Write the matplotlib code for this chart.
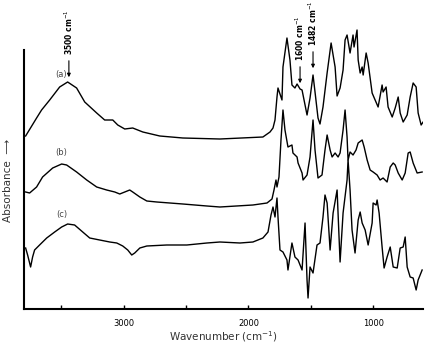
import matplotlib
matplotlib.use('Agg')
import matplotlib.pyplot as plt
from matplotlib.ticker import FixedLocator

# wavenumber (cm-1) and absorbance (arbitrary units, spectra stacked)
wn_a = [3787, 3699, 3659, 3594, 3514, 3450, 3378, 3313, 3217, 3153, 3088, 3048, 2992, 2928, 2847,
        2711, 2526, 2229, 1884, 1827, 1803, 1787, 1771, 1763, 1747, 1731, 1723, 1691, 1667, 1651,
        1627, 1610, 1586, 1570, 1546, 1530, 1506, 1482, 1466, 1442, 1426, 1402, 1369, 1337, 1305,
        1289, 1265, 1241, 1225, 1209, 1185, 1161, 1153, 1129, 1120, 1104, 1088, 1080, 1056, 1040,
        1008, 984, 960, 928, 920, 896, 880, 847, 823, 799, 783, 759, 727, 703, 679, 655, 639, 615, 599]
abs_a = [173, 191, 199, 209, 222, 227, 221, 207, 196, 189, 189, 184, 180, 181, 177,
         173, 171, 170, 172, 177, 181, 189, 212, 221, 215, 209, 242, 271, 249, 224,
         221, 225, 220, 219, 204, 194, 211, 234, 217, 191, 185, 202, 236, 266, 242,
         213, 221, 239, 269, 274, 256, 274, 262, 279, 249, 236, 242, 234, 256, 246,
         216, 209, 202, 224, 217, 222, 202, 192, 201, 212, 196, 187, 194, 212, 226, 222, 196, 184, 187]

wn_b = [3787, 3755, 3699, 3651, 3570, 3498, 3458, 3378, 3297, 3217, 3137, 3072, 3032, 2992, 2952,
        2928, 2871, 2815, 2735, 2526, 2333, 2229, 1964, 1851, 1811, 1795, 1779, 1771, 1755, 1739,
        1723, 1707, 1683, 1651, 1643, 1610, 1602, 1570, 1562, 1530, 1506, 1482, 1466, 1442, 1410,
        1386, 1369, 1345, 1329, 1305, 1281, 1265, 1241, 1225, 1209, 1201, 1185, 1161, 1137, 1120,
        1088, 1072, 1048, 1024, 1000, 968, 944, 920, 888, 863, 839, 823, 799, 767, 743, 719, 703,
        679, 647, 607]
abs_b = [117, 116, 122, 132, 141, 145, 144, 137, 129, 122, 119, 117, 115, 117, 119,
         117, 112, 108, 107, 105, 103, 102, 104, 106, 110, 119, 129, 122, 132, 169,
         199, 179, 162, 164, 156, 152, 146, 136, 129, 134, 152, 189, 159, 131, 134,
         159, 174, 159, 152, 156, 152, 156, 179, 199, 172, 149, 157, 154, 159, 166,
         169, 162, 149, 139, 137, 134, 129, 131, 127, 142, 146, 144, 136, 129, 136,
         156, 157, 146, 136, 137]

wn_c = [3787, 3771, 3747, 3731, 3715, 3675, 3618, 3554, 3498, 3450, 3394, 3329, 3273, 3193, 3112,
        3056, 3008, 2968, 2936, 2912, 2871, 2815, 2655, 2494, 2333, 2229, 2068, 1964, 1884, 1843,
        1819, 1803, 1787, 1771, 1763, 1747, 1723, 1691, 1683, 1651, 1627, 1602, 1570, 1546, 1530,
        1522, 1506, 1482, 1450, 1426, 1402, 1386, 1369, 1345, 1321, 1289, 1265, 1241, 1209, 1201,
        1185, 1169, 1145, 1120, 1104, 1088, 1064, 1040, 1008, 1000, 976, 968, 952, 928, 912, 888,
        863, 839, 807, 783, 759, 743, 727, 703, 679, 655, 639, 607]
abs_c = [61, 54, 42, 52, 59, 64, 71, 77, 82, 85, 84, 77, 71, 69, 67,
         66, 63, 59, 54, 56, 61, 63, 64, 64, 66, 67, 66, 67, 71, 77,
         94, 102, 92, 111, 92, 59, 57, 49, 39, 66, 52, 49, 39, 86, 29,
         11, 42, 36, 64, 66, 92, 114, 106, 59, 96, 119, 47, 96, 129, 149,
         119, 79, 56, 89, 97, 86, 79, 64, 86, 106, 104, 109, 96, 62, 41,
         52, 62, 42, 41, 61, 62, 72, 42, 32, 31, 19, 29, 39]

tick_major = [3000, 2000, 1000]
tick_minor = [3500, 2500, 1500]
peaks = [(3440, '3500 cm$^{-1}$', 227), (1586, '1600 cm$^{-1}$', 221), (1482, '1482 cm$^{-1}$', 236)]
curve_labels = [('(a)', 234), ('(b)', 156), ('(c)', 94)]

fig = plt.figure(figsize=(4.31, 3.45), dpi=100)
ax = fig.add_axes([24 / 431, 36 / 345, 399 / 431, 289 / 345])

for wn, ab in [(wn_a, abs_a), (wn_b, abs_b), (wn_c, abs_c)]:
    ax.plot(wn, ab, color='black', lw=1.0, solid_joinstyle='round')

ax.set_xlim(3800, 600)
ax.set_ylim(0, 289)
for side in ['top', 'right']:
    ax.spines[side].set_visible(False)
ax.spines['left'].set_bounds(0, 259)
ax.spines['left'].set_linewidth(1.5)
ax.spines['bottom'].set_linewidth(1.5)
ax.set_yticks([])
ax.xaxis.set_major_locator(FixedLocator(tick_major))
ax.xaxis.set_minor_locator(FixedLocator(tick_minor))
ax.tick_params(axis='x', which='both', direction='in', length=3, width=1, labelsize=6, pad=7)

for wn, text, top in peaks:
    ax.annotate('', xy=(wn, top + 2), xytext=(wn, top + 24),
                arrowprops=dict(arrowstyle='-|>', color='black', lw=0.8, mutation_scale=5))
    ax.text(wn, top + 27, text, rotation=90, ha='center', va='bottom', fontsize=5.5, fontweight='bold')

for text, y in curve_labels:
    ax.text(3500, y, text, ha='center', va='center', fontsize=6, color='#444444')

ax.set_xlabel('Wavenumber (cm$^{-1}$)', fontsize=7.5, color='#333333', labelpad=1)
fig.text(8 / 431, (345 - 180) / 345, 'Absorbance  \u27f6', rotation=90, ha='center', va='center',
         fontsize=7.5, color='#333333')

fig.savefig('out.png', dpi=100, facecolor='w')
